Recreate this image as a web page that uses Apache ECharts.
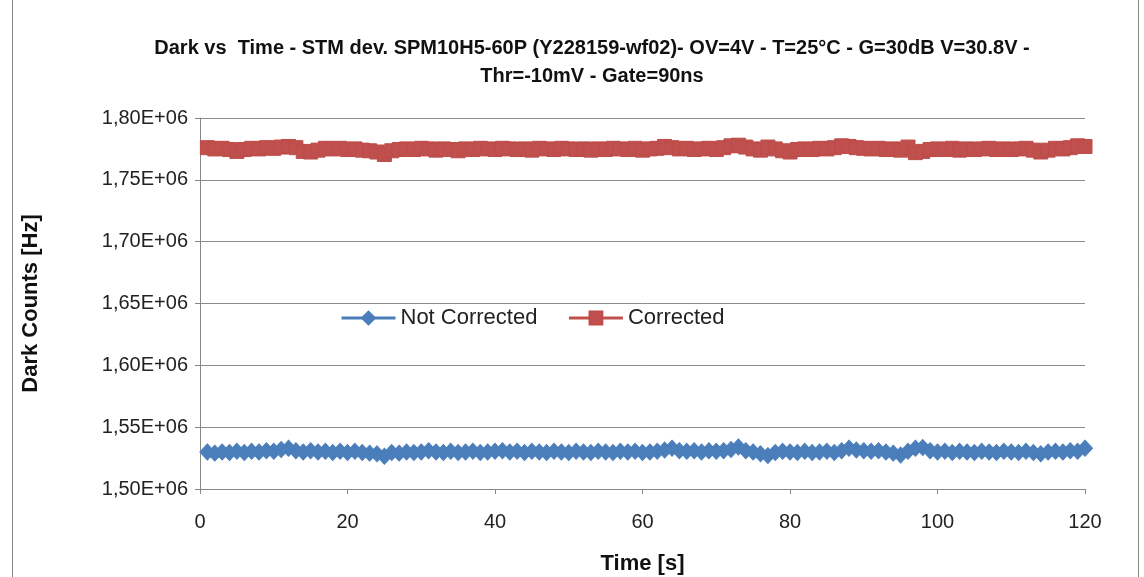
<!DOCTYPE html>
<html>
<head>
<meta charset="utf-8">
<script src="https://cdn.jsdelivr.net/npm/echarts@6/dist/echarts.min.js"></script>
<style>
  html, body { margin: 0; padding: 0; background: #fff; }
  #main { width: 1144px; height: 577px; }
</style>
</head>
<body>
<div id="main"></div>
<script>
// Dark counts vs time
var titleLines = ['Dark vs  Time - STM dev. SPM10H5-60P (Y228159-wf02)- OV=4V - T=25\u00b0C - G=30dB V=30.8V -', 'Thr=-10mV - Gate=90ns'];
var seriesNames = ['Not Corrected', 'Corrected'];
var xTicks = [0, 20, 40, 60, 80, 100, 120];

var time = [];
for (var t = 1; t <= 120; t++) time.push(t);

var notCorrected = [
    1530000, 1529000, 1530000, 1529500, 1530500, 1529500, 1530500, 1530000, 1531000, 1530500,
    1532000, 1533000, 1531000, 1530000, 1531000, 1530000, 1530500, 1529500, 1530500, 1529500,
    1530500, 1529500, 1529000, 1528500, 1526500, 1529500, 1529000, 1530000, 1529500, 1530000,
    1531000, 1530000, 1529500, 1530500, 1529500, 1530000, 1530500, 1529500, 1530000, 1530500,
    1531000, 1530000, 1530500, 1529500, 1530500, 1530000, 1529500, 1530500, 1530000, 1529500,
    1530500, 1530000, 1529500, 1530500, 1530000, 1529500, 1530500, 1530000, 1530500, 1529500,
    1530000, 1530500, 1531500, 1533000, 1531000, 1530500, 1531000, 1530000, 1531000, 1530500,
    1531000, 1532000, 1534000, 1531000, 1530000, 1528500, 1527000, 1529500, 1530500, 1530000,
    1529500, 1530500, 1529500, 1530000, 1530500, 1529500, 1531000, 1533000, 1531500, 1531000,
    1530500, 1531000, 1530000, 1529000, 1527500, 1530500, 1533000, 1533500, 1531000, 1530000,
    1530500, 1529500, 1530500, 1530000, 1529500, 1530500, 1530000, 1529500, 1530500, 1530000,
    1529500, 1530500, 1529500, 1528500, 1530000, 1530500, 1530000, 1531000, 1530500, 1533000
];

var corrected = [
    1776000, 1775000, 1775500, 1774500, 1773000, 1774500, 1775500, 1775000, 1776000, 1775500,
    1776500, 1777000, 1776000, 1773000, 1772500, 1774000, 1775500, 1775000, 1775500, 1774500,
    1775000, 1774000, 1773500, 1772500, 1770500, 1773500, 1774500, 1775000, 1774500, 1775500,
    1775000, 1774000, 1775000, 1774500, 1773500, 1775000, 1774500, 1775500, 1775000, 1774500,
    1775500, 1775000, 1774500, 1775000, 1774000, 1775500, 1775000, 1774500, 1775500, 1775000,
    1774500, 1775000, 1774000, 1775000, 1774500, 1775500, 1775000, 1774500, 1775500, 1774000,
    1775000, 1775500, 1777000, 1776000, 1775000, 1775500, 1774500, 1775000, 1775500, 1774500,
    1776000, 1777500, 1778000, 1776500, 1775000, 1774000, 1776500, 1775000, 1773500, 1772500,
    1774500, 1775000, 1774500, 1775500, 1775000, 1776000, 1777500, 1777000, 1776000, 1775500,
    1775000, 1775500, 1774500, 1775000, 1774000, 1776500, 1772000, 1773000, 1774500, 1775000,
    1774500, 1775500, 1774000, 1775000, 1774500, 1775000, 1775500, 1774500, 1775000, 1774500,
    1775000, 1775500, 1774000, 1772500, 1774000, 1775500, 1775000, 1776000, 1777500, 1777000
];

function pairs(ys) {
    return time.map(function (t, i) { return [t, ys[i]]; });
}

var font = "'Liberation Sans', 'DejaVu Sans', sans-serif";
var myChart = echarts.init(document.getElementById('main'));

var option = {
    animation: false,
    backgroundColor: '#fff',
    textStyle: { fontFamily: font },
    title: {
        text: titleLines.join('\n'),
        left: 587,
        top: 29,
        textAlign: 'center',
        textStyle: {
            fontFamily: font,
            fontSize: 20,
            fontWeight: 'bold',
            color: '#111',
            lineHeight: 28
        }
    },
    legend: {
        left: 335,
        top: 302,
        itemWidth: 54,
        itemHeight: 16,
        itemGap: 30,
        lineStyle: { width: 3 },
        textStyle: { fontFamily: font, fontSize: 22, color: '#222' },
        data: seriesNames
    },
    grid: {
        left: 200,
        right: 59,
        top: 118,
        bottom: 88,
        outerBoundsMode: 'none'
    },
    xAxis: {
        type: 'value',
        min: 0,
        max: 120,
        interval: 20,
        name: 'Time [s]',
        nameLocation: 'middle',
        nameGap: 64,
        nameTextStyle: { fontFamily: font, fontSize: 22, fontWeight: 'bold', color: '#111' },
        axisLine: { lineStyle: { color: '#888', width: 1 } },
        axisTick: { show: true, length: 5, lineStyle: { color: '#888' } },
        axisLabel: {
            fontSize: 20,
            color: '#222',
            margin: 23,
            formatter: function (v) { return xTicks.indexOf(v) >= 0 ? String(v) : ''; }
        },
        splitLine: { show: false }
    },
    yAxis: {
        type: 'value',
        min: 1500000,
        max: 1800000,
        interval: 50000,
        name: 'Dark Counts [Hz]',
        nameLocation: 'middle',
        nameRotate: 90,
        nameGap: 158,
        nameTextStyle: { fontFamily: font, fontSize: 22, fontWeight: 'bold', color: '#111' },
        axisLine: { show: true, lineStyle: { color: '#888', width: 1 } },
        axisTick: { show: true, length: 5, lineStyle: { color: '#888' } },
        axisLabel: {
            fontSize: 20,
            color: '#222',
            margin: 12,
            formatter: function (v) {
                return (v / 1e6).toFixed(2).replace('.', ',') + 'E+06';
            }
        },
        splitLine: { lineStyle: { color: '#8c8c8c', width: 1 } }
    },
    series: [
        {
            name: seriesNames[0],
            type: 'line',
            data: pairs(notCorrected),
            symbol: 'diamond',
            symbolSize: [15, 16],
            showAllSymbol: true,
            lineStyle: { width: 3, color: '#4a7ebb' },
            itemStyle: { color: '#4a7ebb', borderColor: '#4a7ebb', borderWidth: 1 }
        },
        {
            name: seriesNames[1],
            type: 'line',
            data: pairs(corrected),
            symbol: 'rect',
            symbolSize: 14,
            showAllSymbol: true,
            lineStyle: { width: 3, color: '#c0504d' },
            itemStyle: { color: '#c0504d', borderColor: '#be4b48', borderWidth: 1 }
        }
    ],
    graphic: [
        {
            type: 'rect',
            left: 10,
            top: -3,
            shape: { width: 1126, height: 600 },
            style: { fill: null, stroke: '#8a8a8a', lineWidth: 1 },
            silent: true
        }
    ]
};

myChart.setOption(option);
</script>
</body>
</html>
